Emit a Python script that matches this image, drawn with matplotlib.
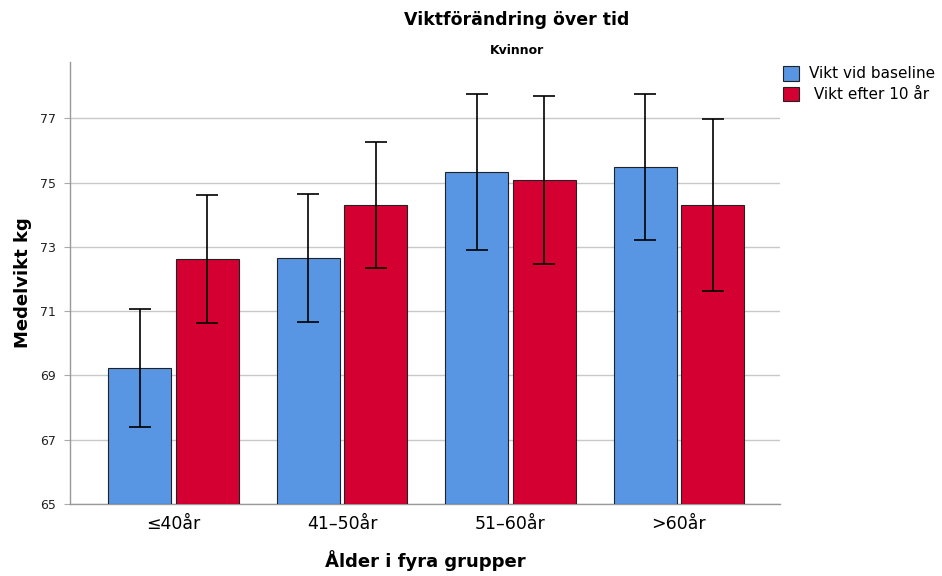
import matplotlib
matplotlib.use("Agg")
import matplotlib.pyplot as plt
import numpy as np

categories = ["≤40år", "41–50år", "51–60år", ">60år"]
series_names = ["Vikt vid baseline", " Vikt efter 10 år"]
baseline = [69.22, 72.66, 75.34, 75.49]
baseline_lo = [67.40, 70.67, 72.89, 73.20]
baseline_hi = [71.06, 74.64, 77.77, 77.77]
after10 = [72.62, 74.29, 75.09, 74.31]
after10_lo = [70.63, 72.34, 72.47, 71.63]
after10_hi = [74.61, 76.27, 77.70, 76.98]
yticks = [65, 67, 69, 71, 73, 75, 77]

plt.rcParams['font.family'] = ['DejaVu Sans']

fig = plt.figure(figsize=(9.42, 5.76), dpi=100)
ax = fig.add_axes([70/942, 1-504/576, 710/942, 442/576])

x = np.arange(len(categories))
w = 0.373
off = 0.2
colors = ["#5896E4", "#D50032"]
for vals, lo, hi, sign, c, name in [(baseline, baseline_lo, baseline_hi, -1, colors[0], series_names[0]),
                                     (after10, after10_lo, after10_hi, 1, colors[1], series_names[1])]:
    vals = np.array(vals); lo = np.array(lo); hi = np.array(hi)
    ax.bar(x + sign*off, vals - 65, bottom=65, width=w, color=c, edgecolor="#222222",
           linewidth=0.8, label=name, zorder=3)
    ax.errorbar(x + sign*off, vals, yerr=[vals - lo, hi - vals], fmt="none",
                ecolor="black", elinewidth=1.2, capsize=8, capthick=1.2, zorder=4)

ax.set_xlim(-0.615, 3.6)
ax.set_ylim(65, 78.75)
ax.set_yticks(yticks)
ax.set_yticklabels([str(t) for t in yticks], fontsize=9, color="#222222")
ax.set_xticks(x)
ax.set_xticklabels(categories, fontsize=12.5)
ax.tick_params(axis="x", length=0, pad=8)
ax.tick_params(axis="y", length=4, color="#aaaaaa", pad=6)
ax.grid(axis="y", color="#c8c8c8", linewidth=1, zorder=0)
for s in ["top", "right"]:
    ax.spines[s].set_visible(False)
for s in ["left", "bottom"]:
    ax.spines[s].set_color("#999999")
    ax.spines[s].set_linewidth(1)

ax.set_ylabel("Medelvikt kg", fontsize=13, fontweight="bold", labelpad=6)
ax.set_xlabel("Ålder i fyra grupper", fontsize=13, fontweight="bold", labelpad=12)

fig.text(517/942, 1-20/576, "Viktförändring över tid", ha="center", va="center",
         fontsize=12.5, fontweight="bold")
fig.text(517/942, 1-50/576, "Kvinnor", ha="center", va="center",
         fontsize=9, fontweight="bold")

leg = ax.legend(loc="upper left", bbox_to_anchor=(0.995, 1.005), frameon=False,
                fontsize=11, handlelength=1.1, handleheight=1.1, handletextpad=0.6,
                labelspacing=0.35, borderaxespad=0.0)
for h in leg.legend_handles:
    h.set_edgecolor("#222222")

fig.savefig("out.png", dpi=100)
